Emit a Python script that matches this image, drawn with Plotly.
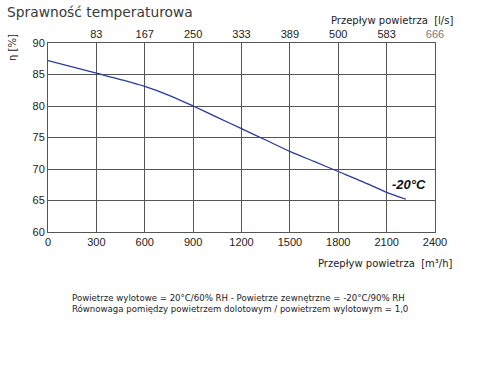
import plotly.graph_objects as go

flow_m3h = [0, 300, 450, 600, 750, 900, 1050, 1200, 1350, 1500, 1650, 1800, 1950, 2100, 2220]
efficiency = [87.2, 85.2, 84.2, 83.1, 81.7, 80.0, 78.2, 76.4, 74.6, 72.8, 71.2, 69.6, 68.0, 66.3, 65.2]
x_ticks = [0, 300, 600, 900, 1200, 1500, 1800, 2100, 2400]
y_ticks = [60, 65, 70, 75, 80, 85, 90]
top_ticks = [300, 600, 900, 1200, 1500, 1800, 2100, 2400]
top_labels = ["83", "167", "250", "333", "389", "500", "583", "666"]
series_label = "-20°C"

GRID = "#555555"
tick_font = dict(family="Liberation Sans, Arial", size=11, color="#222222")

PW, PH = 387, 189  # plot area size in px

fig = go.Figure()
fig.add_trace(go.Scatter(
    x=flow_m3h, y=efficiency, mode="lines",
    line=dict(color="#2a3a9c", width=1.3, shape="spline", smoothing=0.8),
    showlegend=False, hoverinfo="skip"))
fig.add_trace(go.Scatter(
    x=[flow_m3h[0]], y=[efficiency[0]], xaxis="x2", mode="markers",
    marker=dict(opacity=0), showlegend=False, hoverinfo="skip"))

top_text = top_labels[:-1] + ["<span style='color:#777777'>" + top_labels[-1] + "</span>"]

fig.update_layout(
    width=480, height=390,
    margin=dict(l=48, r=45, t=43, b=158),
    paper_bgcolor="white", plot_bgcolor="white",
    xaxis=dict(range=[0, 2400], tickvals=x_ticks, ticktext=[str(v) for v in x_ticks],
               showgrid=True, gridcolor=GRID, gridwidth=1, zeroline=False,
               showline=True, linecolor=GRID, linewidth=1, mirror=False,
               ticks="", tickfont=tick_font, automargin=False),
    xaxis2=dict(range=[0, 2400], overlaying="x", side="top", tickvals=top_ticks,
                ticktext=top_text, showgrid=False, zeroline=False, showline=True,
                linecolor=GRID, linewidth=1, ticks="", tickfont=tick_font, automargin=False),
    yaxis=dict(range=[60, 90], tickvals=y_ticks, showgrid=True, gridcolor=GRID,
               gridwidth=1, zeroline=False, showline=True, linecolor=GRID,
               linewidth=1, mirror=True, ticks="", tickfont=tick_font, automargin=False),
    annotations=[
        dict(text="Sprawność temperaturowa", xref="paper", yref="paper",
             x=-43/PW, y=1 + 31/PH, xanchor="left", yanchor="middle", showarrow=False,
             font=dict(family="DejaVu Sans", size=13.8, color="#3a3a3a")),
        dict(text="Przepływ powietrza  [l/s]", xref="paper", yref="paper",
             x=(455-48)/PW, y=1 + 23/PH, xanchor="right", yanchor="middle", showarrow=False,
             font=dict(family="DejaVu Sans", size=10, color="#222222")),
        dict(text="η [%]", xref="paper", yref="paper", textangle=-90,
             x=-36/PW, y=1 - 5/PH, xanchor="center", yanchor="middle", showarrow=False,
             font=dict(family="DejaVu Sans", size=10, color="#222222")),
        dict(text="Przepływ powietrza  [m³/h]", xref="paper", yref="paper",
             x=(455-48)/PW, y=-(263-232)/PH, xanchor="right", yanchor="middle", showarrow=False,
             font=dict(family="DejaVu Sans", size=10, color="#222222")),
        dict(text="<b><i>" + series_label + "</i></b>", x=2240, y=67.5, xref="x", yref="y",
             xanchor="center", yanchor="middle", showarrow=False,
             font=dict(family="Liberation Sans, Arial", size=13, color="#111111")),
        dict(text="Powietrze wylotowe = 20°C/60% RH - Powietrze zewnętrzne = -20°C/90% RH<br>"
                  "Równowaga pomiędzy powietrzem dolotowym / powietrzem wylotowym = 1,0",
             xref="paper", yref="paper", x=(70-48)/PW, y=-(303-232)/PH,
             xanchor="left", yanchor="middle", align="left", showarrow=False,
             font=dict(family="DejaVu Sans", size=8.6, color="#222222")),
    ],
)

fig.write_html("out.html", config={"displayModeBar": False},
               post_script="document.body.style.margin='0';document.body.style.overflow='hidden';")
